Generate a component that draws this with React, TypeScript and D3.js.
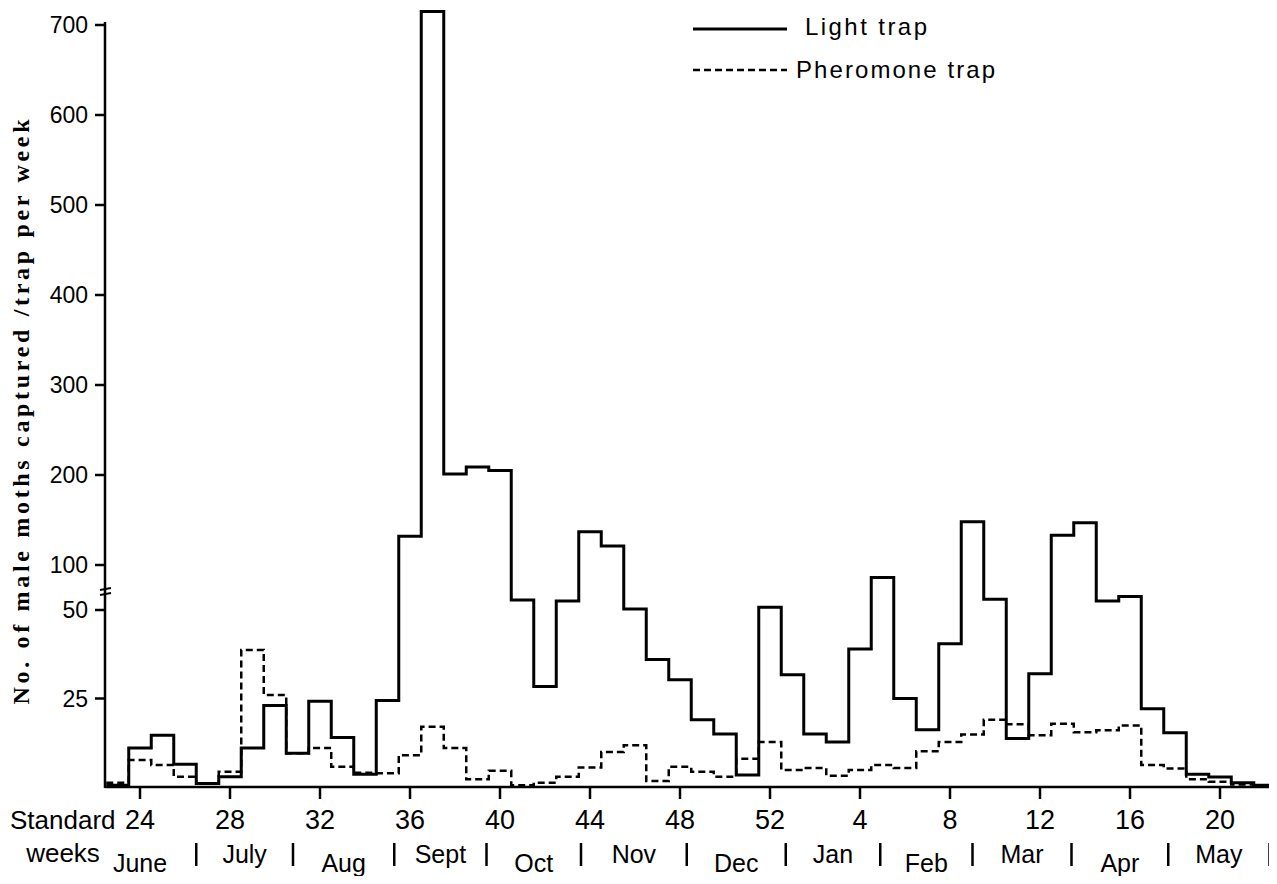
import React from "react";
import * as d3 from "d3";

// standard weeks, week 23 through week 22 of the following year
const weeks = [
  23, 24, 25, 26, 27, 28, 29, 30, 31, 32, 33, 34, 35, 36, 37, 38, 39, 40, 41, 42,
  43, 44, 45, 46, 47, 48, 49, 50, 51, 52, 1, 2, 3, 4, 5, 6, 7, 8, 9, 10, 11, 12,
  13, 14, 15, 16, 17, 18, 19, 20, 21, 22,
];

const lightTrap = [
  0.5, 11, 14.6, 6.4, 1, 2.9, 11, 23, 9.5, 24.2, 14, 3.6, 24.4, 132, 715, 201,
  209, 205, 61, 28.4, 60, 137, 121, 51, 36, 30.3, 19, 15, 3.4, 53, 31.7, 15,
  12.7, 39, 86, 25, 16.2, 40.5, 148, 62, 13.7, 32, 133, 147, 60, 65, 22.1, 15.3,
  3.6, 2.8, 1.2, 0.5,
];

const pheromoneTrap = [
  1.2, 7.6, 6.2, 2.9, 1, 4.3, 38.7, 26, 9.5, 11, 5.7, 4, 3.9, 9, 17, 11, 2.2,
  4.6, 0.5, 1.2, 2.9, 5.5, 9.9, 11.8, 1.7, 5.7, 4.3, 2.9, 8, 12.7, 4.8, 5.4, 3.2,
  4.8, 6.2, 5.4, 10.1, 12.7, 14.8, 19, 17.7, 14.6, 17.9, 15.5, 16, 17.4, 6.2, 5.2,
  2.2, 1.5, 0.7, 0.3,
];

const weekTicks = [24, 28, 32, 36, 40, 44, 48, 52, 4, 8, 12, 16, 20];
const yTicks = [25, 50, 100, 200, 300, 400, 500, 600, 700];

const months = ["June", "July", "Aug", "Sept", "Oct", "Nov", "Dec", "Jan", "Feb", "Mar", "Apr", "May"];
// month boundaries, in position along the week sequence (0 = week 23)
const monthEdges = [-1.5, 3.5, 7.8, 12.3, 16.4, 20.6, 25.3, 29.7, 33.9, 38, 42.4, 46.7, 51.2];

const W = 1277;
const H = 884;
const sans = "'Liberation Sans', Arial, sans-serif";

export default function App() {
  const x = d3.scaleLinear().domain([1, 49]).range([140, 1220]);
  const y = d3.scaleLinear().domain([0, 50, 700]).range([787, 610, 25]);

  const stepPts = (vals: number[]) => {
    const pts: [number, number][] = vals.map((v, i) => [x(i - 0.5), y(v)]);
    pts.push([x(vals.length - 0.5), y(vals[vals.length - 1])]);
    return pts;
  };
  const line = d3
    .line<[number, number]>()
    .x((d) => d[0])
    .y((d) => d[1])
    .curve(d3.curveStepAfter);

  const posOf = (w: number) => weeks.indexOf(w);
  const x0 = 105;
  const y0 = y(0);

  return (
    <svg width={W} height={H} style={{ display: "block", margin: "-8px" }}>
      <rect width={W} height={H} fill="#fff" />

      {/* y axis */}
      <line x1={x0} x2={x0} y1={22} y2={y0 + 1} stroke="#000" strokeWidth={2.5} />
      {yTicks.map((t) => (
        <g key={t}>
          <line x1={x0 - 10} x2={x0} y1={y(t)} y2={y(t)} stroke="#000" strokeWidth={2.5} />
          <text
            x={x0 - 17}
            y={y(t)}
            dy="0.36em"
            textAnchor="end"
            fontFamily={sans}
            fontSize={23}
          >
            {t}
          </text>
        </g>
      ))}
      {/* axis break marks */}
      {[589, 594].map((yy) => (
        <line key={yy} x1={x0 - 5} x2={x0 + 6} y1={yy + 1} y2={yy - 1} stroke="#000" strokeWidth={2} />
      ))}

      {/* x axis */}
      <line x1={x0} x2={1272} y1={y0} y2={y0} stroke="#000" strokeWidth={2.5} />
      {weekTicks.map((w) => (
        <g key={w}>
          <line x1={x(posOf(w))} x2={x(posOf(w))} y1={y0} y2={y0 + 12} stroke="#000" strokeWidth={2.5} />
          <text x={x(posOf(w))} y={829} textAnchor="middle" fontFamily={sans} fontSize={27}>
            {w}
          </text>
        </g>
      ))}
      <text x={10} y={829} fontFamily={sans} fontSize={26}>
        Standard
      </text>
      <text x={63} y={862} textAnchor="middle" fontFamily={sans} fontSize={26}>
        weeks
      </text>

      {/* months */}
      {monthEdges.slice(1).map((m, i) => (
        <line key={i} x1={x(m)} x2={x(m)} y1={843} y2={866} stroke="#000" strokeWidth={2.5} />
      ))}
      {months.map((m, i) => (
        <text
          key={m}
          x={x((monthEdges[i] + monthEdges[i + 1]) / 2)}
          y={i % 2 ? 863 : 872}
          textAnchor="middle"
          fontFamily={sans}
          fontSize={25}
        >
          {m}
        </text>
      ))}

      {/* y title */}
      <text
        transform={`translate(29,412) rotate(-90)`}
        textAnchor="middle"
        fontFamily="'Liberation Serif', 'Times New Roman', serif"
        fontWeight="bold"
        fontSize={24}
        textLength={585}
        lengthAdjust="spacing"
      >
        No. of male moths captured /trap per week
      </text>

      {/* series */}
      <path d={line(stepPts(pheromoneTrap)) ?? ""} fill="none" stroke="#000" strokeWidth={2.5} strokeDasharray="7,4" />
      <path d={line(stepPts(lightTrap)) ?? ""} fill="none" stroke="#000" strokeWidth={3} />

      {/* legend */}
      <line x1={693} x2={787} y1={29} y2={29} stroke="#000" strokeWidth={3} />
      <text x={805} y={26} dy="0.36em" fontFamily={sans} fontSize={24} textLength={122} lengthAdjust="spacing">
        Light trap
      </text>
      <line x1={693} x2={787} y1={70} y2={70} stroke="#000" strokeWidth={2.5} strokeDasharray="7,4" />
      <text x={796} y={69} dy="0.36em" fontFamily={sans} fontSize={24} textLength={199} lengthAdjust="spacing">
        Pheromone trap
      </text>
    </svg>
  );
}
